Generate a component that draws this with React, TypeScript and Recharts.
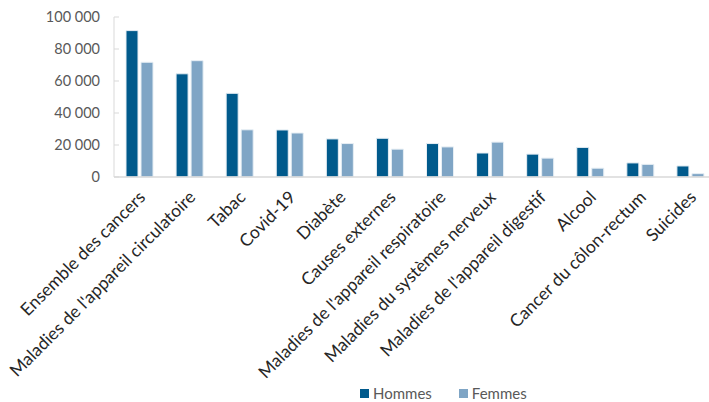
import { Bar, BarChart, XAxis, YAxis } from 'recharts';

const CATEGORIES = [
  'Ensemble des cancers',
  "Maladies de l'appareil circulatoire",
  'Tabac',
  'Covid-19',
  'Diabète',
  'Causes externes',
  "Maladies de l'appareil respiratoire",
  'Maladies du systèmes nerveux',
  "Maladies de l'appareil digestif",
  'Alcool',
  'Cancer du côlon-rectum',
  'Suicides',
];
const HOMMES = [91500, 64500, 52300, 29400, 23800, 24200, 20900, 15000, 14300, 18500, 8800, 6900];
const FEMMES = [71700, 72700, 29500, 27500, 20900, 17400, 18800, 21800, 11800, 5500, 7900, 2100];
const Y_TICKS = [0, 20000, 40000, 60000, 80000, 100000];

const COLORS = { Hommes: '#005A8C', Femmes: '#7FA5C5' };
const FONT = 'Lato, "Open Sans", sans-serif';

const data = CATEGORIES.map((c, i) => ({ name: c, Hommes: HOMMES[i], Femmes: FEMMES[i] }));

const fmt = (v: number) => (v === 0 ? '0' : `${Math.floor(v / 1000)} 000`);

function CategoryTick({ x, y, payload }: any) {
  return (
    <g transform={`translate(${x + 3},${y + 9})`}>
      <text transform="rotate(-45)" textAnchor="end" dy="0.35em" fill="#262626" fontSize={17.5} fontFamily={FONT}>
        {payload.value}
      </text>
    </g>
  );
}

export default function App() {
  return (
    <div style={{ position: 'absolute', left: 0, top: 0, width: 709, height: 402, overflow: 'hidden', background: '#fff' }}>
      <BarChart
        width={715}
        height={402}
        data={data}
        margin={{ top: 17, right: 0, left: 0, bottom: 0 }}
        barGap={3}
        barCategoryGap={12}
      >
        <XAxis
          dataKey="name"
          interval={0}
          tickLine={false}
          axisLine={{ stroke: '#D9D9D9', strokeWidth: 1.5 }}
          tick={<CategoryTick />}
          height={225}
        />
        <YAxis
          width={114}
          domain={[0, 100000]}
          ticks={Y_TICKS}
          tickFormatter={fmt}
          axisLine={{ stroke: '#D9D9D9' }}
          tickLine={{ stroke: '#D9D9D9' }}
          tickSize={-5}
          tickMargin={19}
          tick={{ fill: '#595959', fontSize: 14.5, fontFamily: FONT }}
        />
        <Bar dataKey="Hommes" fill={COLORS.Hommes} stroke="#E6EEF4" strokeWidth={1} isAnimationActive={false} />
        <Bar dataKey="Femmes" fill={COLORS.Femmes} stroke="#E6EEF4" strokeWidth={1} isAnimationActive={false} />
      </BarChart>
      {/* legend drawn as HTML so it does not eat into the plot height */}
      <div style={{ position: 'absolute', left: 360, top: 384, display: 'flex', fontFamily: FONT, fontSize: 15, color: '#595959' }}>
        {(['Hommes', 'Femmes'] as const).map((k) => (
          <span key={k} style={{ display: 'inline-flex', alignItems: 'center', gap: 4, marginRight: 27 }}>
            <span style={{ display: 'inline-block', width: 9, height: 9, background: COLORS[k] }} />
            {k}
          </span>
        ))}
      </div>
    </div>
  );
}
